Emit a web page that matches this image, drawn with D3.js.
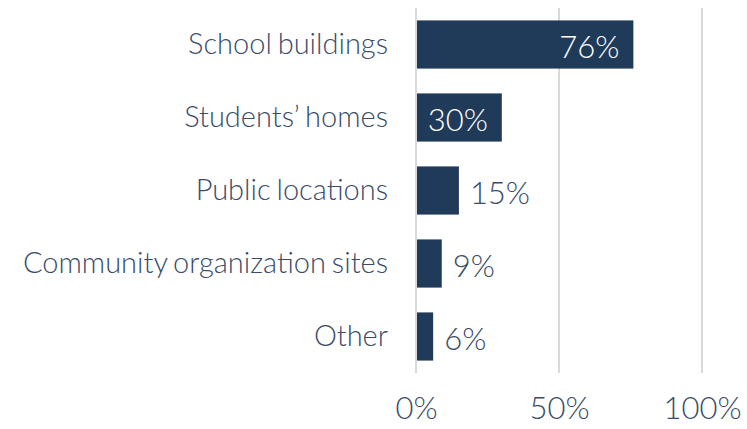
<!DOCTYPE html>
<html>
<head>
<meta charset="utf-8">
<script src="https://cdn.jsdelivr.net/npm/d3@7"></script>
<style>
  body { margin: 0; background: #fff; }
  text { font-family: Lato, sans-serif; font-weight: 300; }
</style>
</head>
<body>
<svg class="chart" width="747" height="429"></svg>
<script>
// data
var categories = ['School buildings', 'Students\u2019 homes', 'Public locations', 'Community organization sites', 'Other'];
var values = [76, 30, 15, 9, 6];
var labels = ['76%', '30%', '15%', '9%', '6%'];
var insideLabel = [true, true, false, false, false];
var tickValues = [0, 50, 100];

var svg = d3.select('.chart');
var padding = {t: 8, r: 45, b: 56, l: 416};
var svgWidth = +svg.attr('width');
var svgHeight = +svg.attr('height');
var plotW = 286;
var plotH = svgHeight - padding.t - padding.b;

var barColor = '#203a59';
var textColor = '#3a4c68';

var chartG = svg.append('g')
    .attr('transform', 'translate(' + padding.l + ',' + padding.t + ')');

var xScale = d3.scaleLinear().domain([0, 100]).range([0, plotW]);
var yScale = d3.scaleBand().domain(categories).range([0, plotH]).paddingInner(0.34).paddingOuter(0.17);

// gridlines
chartG.selectAll('.grid')
  .data(tickValues)
  .enter().append('line')
  .attr('class', 'grid')
  .attr('x1', function(d) { return xScale(d); })
  .attr('x2', function(d) { return xScale(d); })
  .attr('y1', 0)
  .attr('y2', plotH)
  .attr('stroke', '#d9d9d9')
  .attr('stroke-width', 2);

// x axis labels
var xAxis = d3.axisBottom(xScale).tickValues(tickValues).tickSize(0).tickPadding(24)
    .tickFormat(function(d) { return d + '%'; });
var xg = chartG.append('g').attr('transform', 'translate(0,' + plotH + ')').call(xAxis);
xg.select('.domain').remove();
xg.selectAll('text').style('font-size', '31px').style('font-family', 'Lato, sans-serif')
  .style('font-weight', 300).attr('fill', textColor);

// y axis labels
var yAxis = d3.axisLeft(yScale).tickSize(0).tickPadding(28);
var yg = chartG.append('g').call(yAxis);
yg.select('.domain').remove();
yg.selectAll('text').style('font-size', '29px').style('font-family', 'Lato, sans-serif')
  .style('font-weight', 300).style('word-spacing', '-2px').attr('fill', textColor);

// bars
var rows = categories.map(function(c, i) {
  return {cat: c, value: values[i], label: labels[i], inside: insideLabel[i]};
});

chartG.selectAll('.bar')
  .data(rows)
  .enter().append('rect')
  .attr('class', 'bar')
  .attr('x', 0)
  .attr('y', function(d) { return yScale(d.cat); })
  .attr('width', function(d) { return xScale(d.value); })
  .attr('height', yScale.bandwidth())
  .attr('fill', barColor);

// zero line on top of bars
chartG.append('line')
  .attr('x1', xScale(0)).attr('x2', xScale(0))
  .attr('y1', 0).attr('y2', plotH)
  .attr('stroke', '#d9d9d9').attr('stroke-width', 2);

// value labels
chartG.selectAll('.val')
  .data(rows)
  .enter().append('text')
  .attr('class', 'val')
  .attr('x', function(d) { return d.inside ? xScale(d.value) - 14 : xScale(d.value) + 11; })
  .attr('y', function(d) { return yScale(d.cat) + yScale.bandwidth() / 2; })
  .attr('dy', '0.42em')
  .attr('text-anchor', function(d) { return d.inside ? 'end' : 'start'; })
  .attr('fill', function(d) { return d.inside ? '#ffffff' : textColor; })
  .style('font-size', '31px')
  .text(function(d) { return d.label; });
</script>
</body>
</html>
